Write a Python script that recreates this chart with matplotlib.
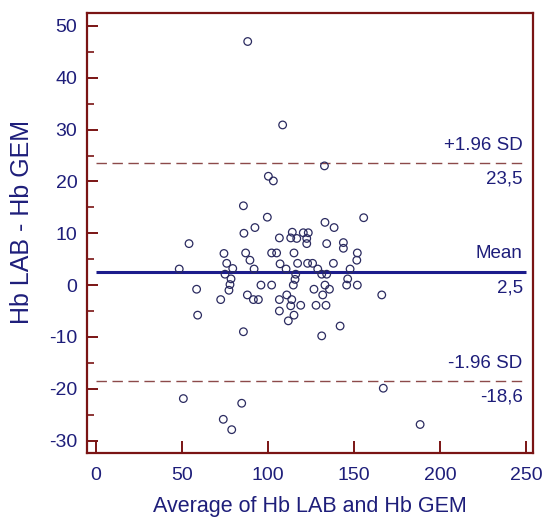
import matplotlib.pyplot as plt
from matplotlib.ticker import MultipleLocator

plt.rcParams["axes.unicode_minus"] = False

# Bland-Altman data
avg = [88.2, 108.5, 132.8, 100.2, 103.1, 85.7, 99.6, 155.6, 133.1, 92.4,
       138.4, 86.0, 114.1, 120.5, 123.4, 106.6, 113.2, 116.7, 122.5, 54.1,
       122.5, 134.1, 143.8, 143.8, 74.4, 87.0, 102.1, 105.0, 115.1, 151.9,
       89.5, 151.6, 76.0, 107.0, 117.2, 123.0, 125.9, 138.0, 48.4, 79.5,
       91.9, 110.5, 128.9, 147.7, 75.0, 116.1, 131.2, 134.1, 78.5, 115.7,
       146.3, 77.9, 95.9, 102.1, 114.7, 133.1, 145.7, 151.9, 77.3, 58.5,
       126.7, 135.7, 88.0, 110.9, 131.8, 166.1, 72.5, 91.5, 94.4, 106.6,
       113.8, 113.2, 119.0, 127.9, 133.7, 106.6, 59.1, 115.1, 111.8, 141.9,
       85.7, 131.2, 167.0, 50.8, 84.7, 74.0, 78.9, 188.4]
diff = [47.0, 30.9, 23.0, 21.0, 20.1, 15.3, 13.1, 13.0, 12.1, 11.1,
        11.1, 10.0, 10.2, 10.1, 10.1, 9.1, 9.1, 9.0, 9.0, 8.0,
        8.0, 8.0, 8.2, 7.1, 6.1, 6.2, 6.2, 6.2, 6.2, 6.2,
        4.8, 4.8, 4.2, 4.1, 4.2, 4.2, 4.2, 4.2, 3.1, 3.2,
        3.1, 3.1, 3.1, 3.1, 2.1, 2.1, 2.1, 2.1, 1.2, 1.1,
        1.2, 0.1, 0.0, 0.0, 0.0, 0.0, 0.0, 0.0, -1.0, -0.8,
        -0.8, -0.8, -1.9, -1.9, -1.9, -1.9, -2.8, -2.8, -2.8, -2.8,
        -2.8, -4.0, -3.9, -3.9, -3.9, -5.0, -5.8, -5.8, -6.9, -7.9,
        -9.0, -9.8, -19.9, -21.9, -22.8, -25.9, -27.9, -26.9]

mean_diff = 2.5
upper = 23.5
lower = -18.6
line_labels = ["+1.96 SD", "Mean", "-1.96 SD"]
value_labels = ["23,5", "2,5", "-18,6"]

navy = "#1e1e7a"
frame = "#7a1414"
dash = "#8c4a4a"
font = ["Liberation Sans", "DejaVu Sans"]

fig = plt.figure(figsize=(5.42, 5.22), dpi=100)
ax = fig.add_axes([87 / 542, 1 - 453 / 522, 446 / 542, 440 / 522])

ax.scatter(avg, diff, s=30, facecolors="none", edgecolors="#2b2b60",
           linewidths=0.9, zorder=3)

ax.hlines(mean_diff, 0, 250, color="#1c1c8c", lw=2.2, zorder=2)
for yv in (upper, lower):
    ax.hlines(yv, 0, 250, color=dash, lw=1.0, linestyles=(0, (7.5, 4)), zorder=2)

# labels above / below each line
for yv, top, bot in zip([upper, mean_diff, lower], line_labels, value_labels):
    ax.annotate(top, (248, yv), xytext=(0, 7), textcoords="offset points",
                ha="right", va="bottom", color=navy, fontsize=13.5, family=font)
    ax.annotate(bot, (248, yv), xytext=(0, -5), textcoords="offset points",
                ha="right", va="top", color=navy, fontsize=13.5, family=font)

ax.set_xlim(-5.2, 254)
ax.set_ylim(-32.4, 52.5)
ax.xaxis.set_major_locator(MultipleLocator(50))
ax.yaxis.set_major_locator(MultipleLocator(10))
ax.yaxis.set_minor_locator(MultipleLocator(5))

for s in ax.spines.values():
    s.set_color(frame)
    s.set_linewidth(1.6)

ax.tick_params(axis="both", which="both", direction="in", color=frame,
               labelcolor=navy, top=False, right=False)
ax.tick_params(axis="y", which="major", length=8, width=1.4, pad=7)
ax.tick_params(axis="y", which="minor", length=5, width=1.2)
ax.tick_params(axis="x", which="major", length=9, width=1.4, pad=10)
for lab in ax.get_xticklabels() + ax.get_yticklabels():
    lab.set_family(font)
    lab.set_fontsize(14)

ax.set_xlabel("Average of Hb LAB and Hb GEM", color=navy, fontsize=15.5,
              family=font, labelpad=9)
fig.text(22 / 542, 1 - 222 / 522, "Hb LAB - Hb GEM", rotation=90,
         ha="center", va="center", color=navy, fontsize=18, family=font)

fig.savefig("out.png", dpi=100)
